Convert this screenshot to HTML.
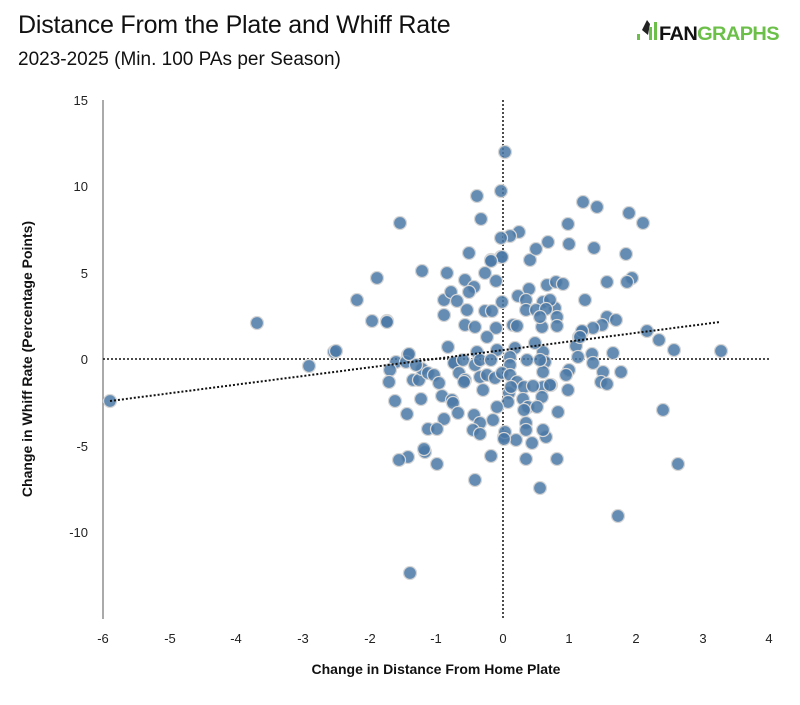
<!DOCTYPE html>
<html><head><meta charset="utf-8"><style>
body{margin:0;background:#fff;width:800px;height:700px;overflow:hidden;font-family:"Liberation Sans",sans-serif}
</style></head><body>
<svg width="800" height="700" xmlns="http://www.w3.org/2000/svg" font-family="Liberation Sans, sans-serif">
<text x="18" y="33" font-size="25" fill="#111" letter-spacing="-0.2">Distance From the Plate and Whiff Rate</text>
<text x="18" y="65" font-size="19" fill="#111">2023-2025 (Min. 100 PAs per Season)</text>
<rect x="637" y="34" width="3" height="6" fill="#6cc04a"/>
<path d="M642 30 l5 -10 l3 4 l-2 11 z" fill="#222"/>
<rect x="649" y="27" width="3" height="13" fill="#6cc04a"/>
<rect x="654" y="22" width="3" height="18" fill="#6cc04a"/>
<text x="659" y="40" font-weight="bold" font-size="19" letter-spacing="-0.6" textLength="120" lengthAdjust="spacingAndGlyphs"><tspan fill="#111">FAN</tspan><tspan fill="#6cc04a">GRAPHS</tspan></text>
<line x1="103" y1="100" x2="103" y2="619" stroke="#555" stroke-width="1"/>
<g font-size="13" fill="#222" text-anchor="end">
<text x="88" y="105">15</text><text x="88" y="191">10</text><text x="88" y="278">5</text><text x="88" y="364">0</text><text x="88" y="451">-5</text><text x="88" y="537">-10</text>
</g>
<g font-size="13" fill="#222" text-anchor="middle">
<text x="103" y="643">-6</text><text x="170" y="643">-5</text><text x="236" y="643">-4</text><text x="303" y="643">-3</text><text x="370" y="643">-2</text><text x="436" y="643">-1</text><text x="503" y="643">0</text><text x="569" y="643">1</text><text x="636" y="643">2</text><text x="703" y="643">3</text><text x="769" y="643">4</text>
</g>
<text x="436" y="674" font-size="14" font-weight="bold" text-anchor="middle" fill="#111">Change in Distance From Home Plate</text>
<text transform="translate(32,359) rotate(-90)" font-size="14" font-weight="bold" text-anchor="middle" fill="#111">Change in Whiff Rate (Percentage Points)</text>
<line x1="103" y1="359" x2="769" y2="359" stroke="#111" stroke-width="1.5" stroke-dasharray="2,2"/>
<line x1="503" y1="100" x2="503" y2="619" stroke="#111" stroke-width="1.5" stroke-dasharray="2,2"/>
<g fill="#4a78a6" fill-opacity="0.85" stroke="#d6d6d6" stroke-width="1.3" id="pts"></g>
<line x1="110" y1="401" x2="720" y2="322" stroke="#111" stroke-width="2" stroke-dasharray="2,2"/>
</svg>
<script>
var p=[[110,401],[257,323],[309,366],[334,352],[336,351],[357,300],[372,321],[387,321],[377,278],[400,223],[422,271],[447,273],[444,315],[444,300],[451,292],[396,362],[408,355],[406,362],[390,370],[389,382],[413,380],[419,380],[422,369],[428,373],[434,375],[439,383],[442,396],[452,400],[395,401],[421,399],[407,414],[444,419],[428,429],[437,429],[425,452],[408,457],[399,460],[437,464],[448,347],[455,363],[475,480],[491,456],[526,459],[540,488],[557,459],[618,516],[410,573],[678,464],[504,437],[516,440],[532,443],[546,437],
[505,152],[501,191],[477,196],[481,219],[583,202],[597,207],[629,213],[643,223],[568,224],[519,232],[510,236],[501,238],[469,253],[491,260],[501,257],[530,260],[536,249],[548,242],[569,244],[594,248],[626,254],[607,282],[632,278],[627,282],[585,300],[547,285],[556,282],[563,284],[543,302],[555,308],[557,317],[557,326],[542,327],[607,317],[616,320],[602,325],[593,328],[582,332],[579,337],[576,346],[647,331],[659,340],[674,350],[721,351],[613,353],[592,354],[578,357],[593,363],[603,372],[621,372],[601,382],[607,384],[569,370],[566,375],[551,385],[568,390],[558,412],[663,410],[543,352],[545,362],[543,372],[543,387],[542,397],
[502,257],[491,261],[485,273],[465,280],[496,281],[474,287],[469,292],[529,289],[518,296],[457,301],[502,302],[526,300],[550,300],[467,310],[485,311],[492,311],[526,310],[536,310],[546,309],[540,317],[387,322],[465,325],[475,327],[496,328],[513,325],[517,326],[487,337],[582,331],[580,337],[477,352],[497,350],[515,348],[535,343],[409,354],[416,365],[454,363],[463,360],[475,365],[480,360],[491,360],[510,357],[510,365],[527,360],[540,360],[459,373],[465,380],[480,377],[487,375],[495,378],[502,373],[510,375],[517,382],[524,387],[533,386],[550,385],[464,382],[483,390],[509,393],[511,387],[523,399],[508,402],[528,407],[537,407],[453,403],[458,413],[474,415],[480,423],[493,420],[497,407],[524,410],[526,423],[473,430],[480,434],[505,432],[526,430],[543,430],[504,439],[424,449]];
var g=document.getElementById('pts'),s='';
p.forEach(function(q){s+='<circle cx="'+q[0]+'" cy="'+q[1]+'" r="6.5"/>';});
g.innerHTML=s;
</script>
</body></html>
